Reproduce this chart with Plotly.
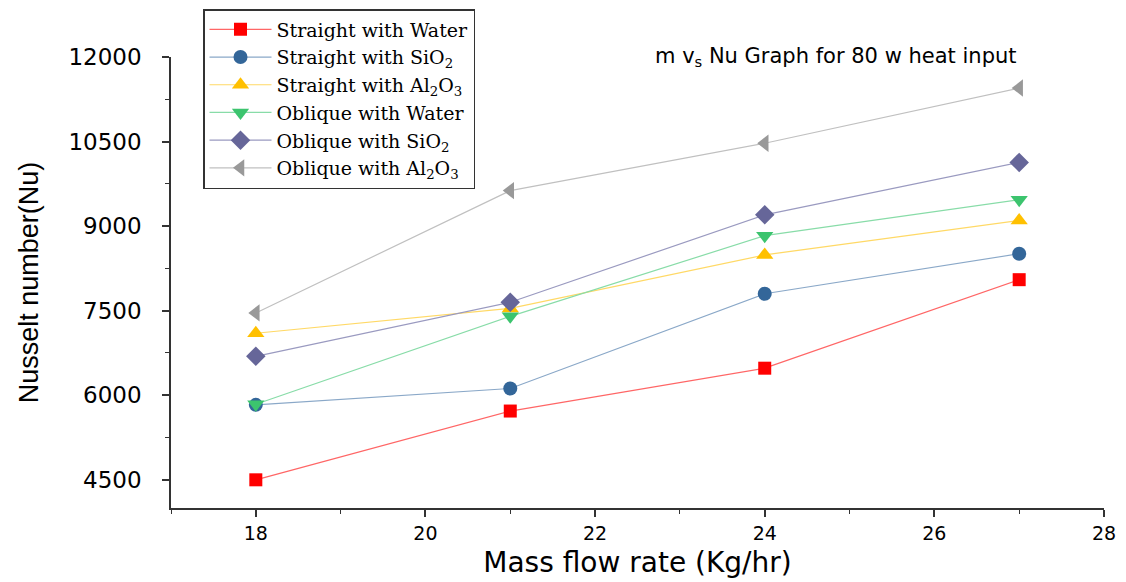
import plotly.graph_objects as go

mass_flow = [18, 21, 24, 27]
series_names = [
    "Straight with Water",
    "Straight with SiO<sub>2</sub>",
    "Straight with Al<sub>2</sub>O<sub>3</sub>",
    "Oblique with Water",
    "Oblique with SiO<sub>2</sub>",
    "Oblique with Al<sub>2</sub>O<sub>3</sub>",
]
straight_water = [4500, 5720, 6480, 8050]
straight_sio2 = [5830, 6120, 7800, 8510]
straight_al2o3 = [7100, 7540, 8490, 9100]
oblique_water = [5840, 7400, 8830, 9470]
oblique_sio2 = [6690, 7650, 9200, 10130]
oblique_al2o3 = [7460, 9630, 10470, 11450]

values = [straight_water, straight_sio2, straight_al2o3, oblique_water, oblique_sio2, oblique_al2o3]
marker_colors = ["#ff0000", "#336699", "#ffc000", "#3cc46e", "#666699", "#999999"]
line_colors = ["#ff6666", "#8aa8c8", "#ffd966", "#88dca8", "#9a9ac0", "#c0c0c0"]
symbols = ["square", "circle", "triangle-up", "triangle-down", "diamond", "triangle-left"]
sizes = [13, 14, 15, 15, 15, 15]

fig = go.Figure()
for name, vals, mc, lc, sym, sz in zip(series_names, values, marker_colors, line_colors, symbols, sizes):
    fig.add_trace(go.Scatter(
        x=mass_flow, y=vals, name=name, mode="lines+markers",
        line=dict(color=lc, width=1.2),
        marker=dict(color=mc, symbol=sym, size=sz, line=dict(width=0)),
    ))

# page has an 8px body margin; plot area spans x 171..1104, y 57..508 in page pixels
W, H = 1118, 574
L, R, T, B = 163, 22, 49, 74
plot_w = W - L - R
plot_h = H - T - B

fig.add_annotation(
    x=(836 - 171) / plot_w, y=1.0, xref="paper", yref="paper",
    xanchor="center", yanchor="middle",
    text="m v<sub>s</sub> Nu Graph for 80 w heat input", showarrow=False,
    font=dict(family="DejaVu Sans", size=21, color="#000000"),
)

fig.update_layout(
    width=W, height=H,
    margin=dict(l=L, r=R, t=T, b=B, autoexpand=False),
    paper_bgcolor="white", plot_bgcolor="white",
    showlegend=True,
    legend=dict(
        x=(203 - 171) / plot_w, y=(508 - 9) / plot_h, xanchor="left", yanchor="top",
        bordercolor="#333333", borderwidth=1.5, bgcolor="white",
        font=dict(family="DejaVu Serif", size=19, color="#000000"),
        tracegroupgap=0, itemwidth=62,
    ),
    xaxis=dict(
        range=[17, 28], tick0=18, dtick=2, showgrid=False, zeroline=False,
        showline=True, linecolor="#333333", linewidth=1.5, automargin=False,
        ticks="outside", ticklen=7, tickcolor="#333333", tickwidth=1.5,
        minor=dict(dtick=1, tick0=17, ticks="outside", ticklen=4, tickcolor="#333333", tickwidth=1.2),
        tickfont=dict(family="DejaVu Sans", size=19, color="#000000"),
        title=dict(text="Mass flow rate (Kg/hr)", font=dict(family="DejaVu Sans", size=28, color="#000000"), standoff=10),
    ),
    yaxis=dict(
        range=[4000, 12000], tick0=4500, dtick=1500, showgrid=False, zeroline=False,
        showline=True, linecolor="#333333", linewidth=1.5, automargin=False,
        tickformat="d", ticklabelstandoff=16,
        ticks="outside", ticklen=7, tickcolor="#333333", tickwidth=1.5,
        minor=dict(dtick=750, tick0=4500, ticks="outside", ticklen=4, tickcolor="#333333", tickwidth=1.2),
        tickfont=dict(family="DejaVu Sans", size=23, color="#000000"),
        title=dict(text="Nusselt number(Nu)", font=dict(family="Liberation Sans Narrow, Liberation Sans, Arial", size=27, color="#000000"), standoff=22),
    ),
)

fig.write_html("out.html")
